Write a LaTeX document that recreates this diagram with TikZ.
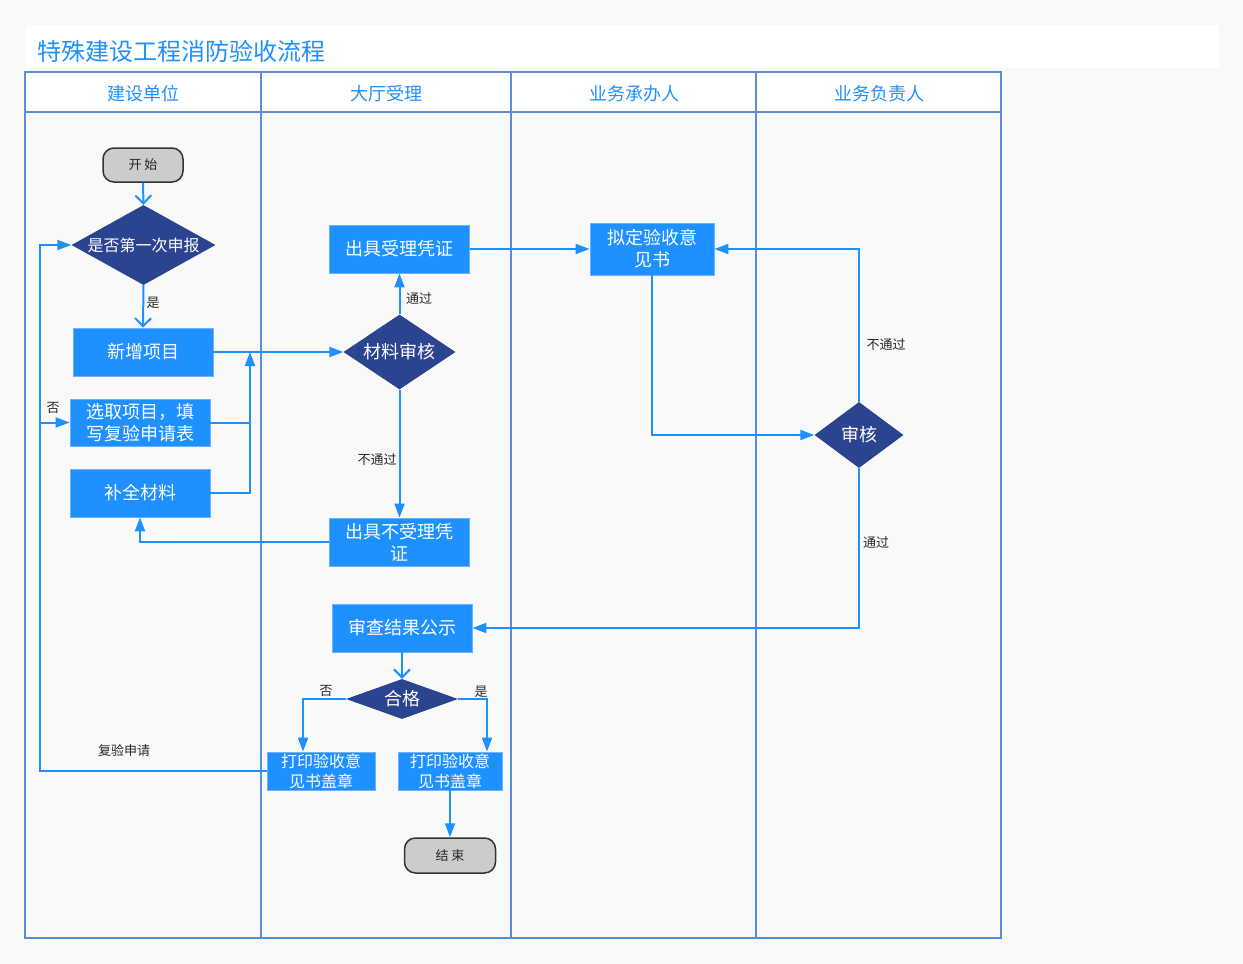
\documentclass[tikz,border=0pt]{standalone}
\usepackage{fontspec}
\setmainfont{Noto Sans CJK SC}
\usetikzlibrary{arrows.meta,shapes.geometric}
\definecolor{bg}{RGB}{249,249,249}
\definecolor{boxblue}{RGB}{30,144,255}
\definecolor{boxedge}{RGB}{110,178,255}
\definecolor{dia}{RGB}{43,68,144}
\definecolor{lineblue}{RGB}{30,144,255}
\definecolor{lane}{RGB}{91,141,217}
\definecolor{lbl}{RGB}{40,40,40}
\definecolor{termfill}{RGB}{204,204,204}
\definecolor{termedge}{RGB}{51,51,51}
\tikzset{
  box/.style={rectangle, fill=boxblue, draw=boxedge, line width=0.8pt, text=white, inner sep=0pt, align=center, font=\fontsize{18}{22}\selectfont},
  dec/.style={diamond, fill=dia, text=white, inner sep=0pt, font=\fontsize{18}{20}\selectfont},
  term/.style={rectangle, rounded corners=11pt, fill=termfill, draw=termedge, line width=1.5pt, text=lbl, font=\fontsize{13}{14}\selectfont},
  conn/.style={draw=lineblue, line width=2pt},
  arr/.style={conn, -{Triangle[length=14pt,width=10pt]}},
  varr/.style={conn, -{Straight Barb[length=8pt,width=16pt]}},
  lbltext/.style={text=lbl, font=\fontsize{13}{14}\selectfont, inner sep=0pt},
  lanehead/.style={text=boxblue, font=\fontsize{18}{20}\selectfont, inner sep=0pt},
}
\begin{document}
\begin{tikzpicture}[x=1pt,y=-1pt]
\useasboundingbox (0,0) rectangle (1243,964);
\fill[bg] (0,0) rectangle (1243,964);
% title band
\fill[white] (26,25) rectangle (1219,68);
\node[anchor=west, text=boxblue, font=\fontsize{24}{26}\selectfont, inner sep=0pt] (title) at (37,51) {特殊建设工程消防验收流程};
% swimlanes
\fill[white] (25,72) rectangle (1001,112);
\draw[lane, line width=1.5pt] (25,72) rectangle (1001,938);
\draw[lane, line width=1.5pt] (25,112) -- (1001,112);
\foreach \xx in {261,511,756} \draw[lane, line width=1.5pt] (\xx,72) -- (\xx,938);
\node[lanehead] (h1) at (143,94) {建设单位};
\node[lanehead] (h2) at (386,94) {大厅受理};
\node[lanehead] (h3) at (634,94) {业务承办人};
\node[lanehead] (h4) at (879,94) {业务负责人};

% nodes
\node[term, minimum width=80pt, minimum height=34pt] (start) at (143,165) {开 始};
\node[dec, minimum width=144pt, minimum height=80pt, shape aspect=1.8, font=\fontsize{16}{18}\selectfont] (d1) at (143.5,245) {是否第一次申报};
\node[box, minimum width=140pt, minimum height=48pt] (n1) at (143,352) {新增项目};
\node[box, minimum width=140pt, minimum height=47pt] (n2) at (140,422.5) {选取项目，填\\写复验申请表};
\node[box, minimum width=140pt, minimum height=48pt] (n3) at (140,493) {补全材料};
\node[box, minimum width=140pt, minimum height=48pt] (n4) at (399.5,249) {出具受理凭证};
\node[dec, minimum width=112pt, minimum height=75pt, shape aspect=1.5] (d2) at (399.5,352) {材料审核};
\node[box, minimum width=140pt, minimum height=48pt] (n5) at (399.5,542) {出具不受理凭\\证};
\node[box, minimum width=124pt, minimum height=52pt] (n6) at (652,249) {拟定验收意\\见书};
\node[dec, minimum width=89pt, minimum height=66pt, shape aspect=1.35] (d3) at (859,435) {审核};
\node[box, minimum width=140pt, minimum height=48pt] (n7) at (402,628) {审查结果公示};
\node[dec, minimum width=112pt, minimum height=40pt, shape aspect=2.8] (d4) at (402,699) {合格};
\node[box, minimum width=108pt, minimum height=38pt, font=\fontsize{16}{20}\selectfont] (n8) at (321,771) {打印验收意\\见书盖章};
\node[box, minimum width=104pt, minimum height=38pt, font=\fontsize{16}{20}\selectfont] (n9) at (450,771) {打印验收意\\见书盖章};
\node[term, minimum width=91pt, minimum height=35pt] (end) at (450,855.5) {结 束};

% helper coordinates
\coordinate (j1) at (250,352);
\coordinate (j2) at (250,422.5);
\coordinate (lb) at (40,771);
\coordinate (lt) at (40,245);
\coordinate (lm) at (40,422.5);

% connectors
\draw[varr] (start.south) -- (d1.north);
\draw[varr] (d1.south) -- (n1.north);
\draw[arr] (n1.east) -- (d2.west);
\draw[arr] (n2.east) -| (j1);
\draw[conn] (n3.east) -| (j2);
\draw[arr] (d2.north) -- (n4.south);
\draw[arr] (d2.south) -- (n5.north);
\draw[arr] (n5.west) -| (n3.south);
\draw[arr] (n4.east) -- (n6.west);
\draw[arr] (n6.south) |- (d3.west);
\draw[arr] (d3.north) |- (n6.east);
\draw[arr] (d3.south) |- (n7.east);
\draw[varr] (n7.south) -- (d4.north);
\draw[arr] (d4.west) -| ([xshift=-18pt]n8.north);
\draw[arr] (d4.east) -| ([xshift=37pt]n9.north);
\draw[arr] (n9.south) -- (end.north);
\draw[arr] (n8.west) -- (lb) -- (lt) -- (d1.west);
\draw[arr] (lm) -- (n2.west);

% labels
\node[lbltext] (l1) at (153,303) {是};
\node[lbltext] (l2) at (53,408) {否};
\node[lbltext] (l3) at (419,299) {通过};
\node[lbltext] (l4) at (377,460) {不通过};
\node[lbltext] (l5) at (886,345) {不通过};
\node[lbltext] (l6) at (876,543) {通过};
\node[lbltext] (l7) at (326,691) {否};
\node[lbltext] (l8) at (481,692) {是};
\node[lbltext] (l9) at (124,751) {复验申请};
\end{tikzpicture}
\end{document}
